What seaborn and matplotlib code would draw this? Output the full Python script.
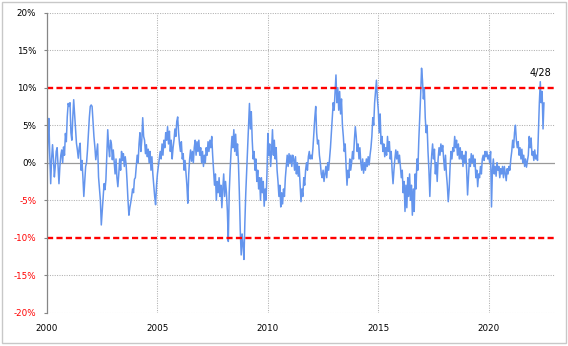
import matplotlib
matplotlib.use("Agg")
import matplotlib.pyplot as plt
import seaborn as sns
import pandas as pd
from matplotlib.patches import Rectangle

# ---- data: semi-monthly readings (%), 24 per year ----
v2000 = [-2.5, 3.0, 5.9, 1.0, -2.8, 0.5, 2.4, 0.5, -1.9, -0.5, 1.5, 2.0, -0.5, -2.8, -0.5, 1.0, 1.7, 0.0, 2.1, 1.0, 3.9, 2.8, 6.1, 7.9]
v2001 = [7.5, 8.0, 4.0, 3.0, 6.0, 8.4, 6.5, 4.8, 2.6, 1.7, 0.6, 2.0, 2.6, -1.0, 0.3, -1.9, -4.5, -2.5, -0.5, 0.0, 1.7, 3.9, 6.0, 7.5]
v2002 = [7.7, 7.5, 5.5, 3.5, 2.1, 0.4, 1.5, 2.5, -1.9, -3.5, -5.0, -8.3, -6.5, -4.5, -2.8, -3.6, -2.3, 1.0, 4.4, 2.1, 0.8, 3.0, 2.5, 0.4]
v2003 = [1.7, 0.0, -1.5, 0.5, -2.0, -3.2, -1.5, 0.5, -1.0, 1.5, 0.3, 1.2, -0.5, 0.8, -0.3, -2.5, -5.0, -7.0, -6.0, -5.3, -4.5, -3.5, -4.0, -2.2]
v2004 = [-2.0, -0.5, 1.0, 0.0, 2.5, 4.0, 1.5, 3.0, 6.0, 3.5, 3.0, 1.2, 2.4, 0.8, 1.8, 0.0, 1.5, -1.0, 0.8, -1.5, -3.0, -4.5, -5.6, -3.0]
v2005 = [-1.5, -0.5, 0.4, 1.5, 0.5, 2.5, 1.0, 3.0, 2.0, 4.0, 3.0, 4.8, 2.5, 4.2, 1.5, 3.0, 0.5, 2.0, 3.0, 4.5, 3.5, 5.5, 6.1, 4.0]
v2006 = [2.5, 1.5, 2.8, 0.5, 1.2, -1.0, 0.3, -1.4, -3.0, -5.4, -1.5, 0.5, 1.7, 0.2, 1.5, 0.0, 2.0, 3.0, 1.0, 2.8, 1.5, 3.0, 1.0, 2.0]
v2007 = [0.0, 1.5, -0.5, 1.0, 0.0, 2.0, 1.0, 2.8, 1.5, 3.0, 2.0, 3.5, 1.0, -1.0, -3.0, -1.5, -5.0, -2.5, -4.0, -2.0, -4.5, -3.0, -6.0, -3.5]
v2008 = [-1.5, -4.5, -2.5, -4.0, -6.5, -10.5, -4.0, -1.0, 1.5, 3.5, 2.0, 4.4, 1.5, 3.8, 1.0, 2.5, 0.0, -4.0, -9.0, -12.3, -9.5, -11.0, -12.9, -8.0]
v2009 = [-4.0, -1.0, 2.0, 5.0, 7.9, 4.5, 6.8, 3.0, 0.5, 1.5, -1.0, 0.5, -2.5, -1.0, -3.5, -2.0, -5.0, -2.0, -4.0, -2.5, -5.8, -3.5, -5.0, -1.5]
v2010 = [3.9, 1.0, 2.5, -0.5, 1.5, 4.4, 1.0, 3.0, 0.5, 2.0, -1.0, -2.5, -4.5, -3.0, -5.9, -4.0, -5.5, -3.5, -4.5, -2.0, -0.5, 1.0, -0.5, 1.2]
v2011 = [0.0, 1.0, -0.5, 1.0, 0.5, -1.0, 0.8, -1.5, 0.0, -1.8, -0.5, -3.0, -5.2, -3.5, -4.5, -2.0, -3.0, -1.0, 0.0, -1.0, 0.8, 1.5, 0.5, 1.0]
v2012 = [0.5, 2.0, 4.0, 6.0, 7.5, 4.0, 2.5, 3.0, 1.0, 0.0, -1.5, -2.0, -1.0, -2.5, -1.5, -0.5, -2.0, 0.0, -1.0, 0.5, 2.0, 4.0, 6.0, 8.0]
v2013 = [7.0, 9.5, 11.7, 8.0, 10.0, 7.0, 9.5, 6.5, 8.5, 5.0, 3.5, 1.5, 2.5, -0.5, -3.0, -1.0, -2.0, 0.5, -1.0, 0.0, 1.5, 0.5, 3.0, 4.8]
v2014 = [3.5, 1.5, 2.5, 0.5, 2.0, 0.0, -1.0, 0.5, -1.4, 0.0, -1.0, 0.5, -0.5, 0.8, -0.3, 1.0, 2.0, 3.5, 6.0, 5.0, 8.0, 9.5, 11.0, 8.5]
v2015 = [7.0, 4.0, 6.5, 2.5, 3.5, 1.5, 2.5, 0.8, 2.0, 1.0, 3.5, 1.5, 2.8, 0.5, 1.5, -1.0, -2.8, -1.0, 0.5, 1.7, 0.5, 1.5, 0.0, 1.0]
v2016 = [-0.5, -2.0, -1.0, -4.0, -2.5, -6.5, -3.0, -6.0, -2.0, -4.5, -1.5, -5.0, -3.0, -7.0, -3.5, -6.5, -1.5, -3.5, 0.5, -1.0, 3.0, 6.0, 9.0, 12.6]
v2017 = [11.0, 8.5, 10.0, 6.0, 4.0, 5.0, 1.5, -1.0, -4.5, -1.0, 1.0, 2.5, 0.5, 1.8, -1.5, 0.0, -2.5, 0.5, 2.0, 1.0, 2.5, 1.5, 2.3, 0.5]
v2018 = [-1.0, 1.0, -1.5, -3.0, -5.2, -3.5, -0.5, 1.5, 0.5, 2.0, 1.5, 3.5, 2.0, 3.0, 1.0, 2.5, 0.5, 2.0, 0.5, 1.5, -0.5, 1.0, 0.0, 1.5]
v2019 = [-1.0, -4.3, -2.0, 0.5, -0.5, 1.2, 0.0, 1.0, -0.5, 0.5, -2.0, -1.0, -3.2, -1.5, -2.0, -0.5, -1.5, 0.5, 1.0, 0.3, 1.5, 0.8, 1.5, 0.5]
v2020 = [1.0, 0.0, 1.5, -5.9, -1.0, 0.5, -1.5, -0.5, -1.8, 0.0, -1.0, -0.5, -2.0, -0.8, -1.5, -0.5, -2.0, -0.5, -1.5, -2.4, -0.8, -1.5, -0.5, -1.0]
v2021 = [0.5, 1.5, 3.0, 2.0, 4.0, 5.0, 3.0, 2.0, 2.8, 1.0, 2.0, 0.5, 1.8, 0.0, 1.0, -0.5, 0.5, -0.6, 0.2, 1.0, 3.5, 2.0, 3.3, 1.0]
v2022 = [1.5, 0.3, 1.7, 0.5, 1.0, 0.3, 4.0, 8.0, 10.8, 8.0, 9.5, 4.5, 8.0]

series_by_year = {
    2000: v2000, 2001: v2001, 2002: v2002, 2003: v2003, 2004: v2004,
    2005: v2005, 2006: v2006, 2007: v2007, 2008: v2008, 2009: v2009,
    2010: v2010, 2011: v2011, 2012: v2012, 2013: v2013, 2014: v2014,
    2015: v2015, 2016: v2016, 2017: v2017, 2018: v2018, 2019: v2019,
    2020: v2020, 2021: v2021, 2022: v2022,
}
x_ticks = [2000, 2005, 2010, 2015, 2020]
x_tick_labels = ["2000", "2005", "2010", "2015", "2020"]
y_ticks = [-20, -15, -10, -5, 0, 5, 10, 15, 20]
y_tick_labels = ["-20%", "-15%", "-10%", "-5%", "0%", "5%", "10%", "15%", "20%"]
threshold_levels = [10, -10]
latest_label = "4/28"
latest_index = 8  # index within v2022 of the marked peak

dates, vals = [], []
for yr, arr in series_by_year.items():
    for i, v in enumerate(arr):
        dates.append(yr + i / 24.0)
        vals.append(v)
df = pd.DataFrame({"date": dates, "value": vals})

sns.set_style("white")
plt.rcParams["font.family"] = ["DejaVu Sans"]

W, H = 568, 346
fig = plt.figure(figsize=(W / 100, H / 100), dpi=100)
ax = fig.add_axes([47 / W, 1 - 312.7 / H, (555 - 47) / W, 300 / H])

grid_c = "#B0B0B0"
for yv in y_ticks:
    if yv == 0:
        ax.axhline(yv, color="#9A9A9A", lw=0.9, zorder=1)
    elif yv not in threshold_levels:
        ax.axhline(yv, color=grid_c, lw=0.75, ls=(0, (1, 1.3)), zorder=1)
for xv in x_ticks[1:]:
    ax.axvline(xv, color=grid_c, lw=0.75, ls=(0, (1, 1.3)), zorder=1)

sns.lineplot(data=df, x="date", y="value", ax=ax, color="#6495ED", linewidth=1.1, zorder=2)

for lv in threshold_levels:
    ax.axhline(lv, color="#FF0000", lw=1.7, ls=(0, (2.6, 1.4)), zorder=3)

peak_x = 2022 + latest_index / 24.0
peak_y = v2022[latest_index]
ax.annotate(latest_label, xy=(peak_x, peak_y), xytext=(0, 3), textcoords="offset points",
            ha="center", va="bottom", fontsize=7, color="#000000")

ax.set_xlim(2000, 2023.0)
ax.set_ylim(-20, 20)
ax.set_xticks(x_ticks)
ax.set_xticklabels(x_tick_labels)
ax.set_yticks(y_ticks)
ax.set_yticklabels(y_tick_labels)
for lab, yv in zip(ax.get_yticklabels(), y_ticks):
    lab.set_color("#FF0000" if yv < 0 else "#000000")
ax.set_xlabel("")
ax.set_ylabel("")
ax.tick_params(axis="y", length=2.2, width=0.8, color="#868686", pad=5.5, labelsize=6.3, direction="out", left=True)
ax.tick_params(axis="x", length=0, pad=8, labelsize=6.3, colors="#000000")

for s in ["top", "right", "bottom"]:
    ax.spines[s].set_visible(False)
ax.spines["left"].set_color("#868686")
ax.spines["left"].set_linewidth(0.9)
ax.spines["left"].set_zorder(4)

fig.patches.append(Rectangle((2 / W, 3 / H), 564 / W, 341 / H, transform=fig.transFigure,
                             fill=False, edgecolor="#C8C8C8", lw=1.0))

fig.savefig("out.png", dpi=100)
